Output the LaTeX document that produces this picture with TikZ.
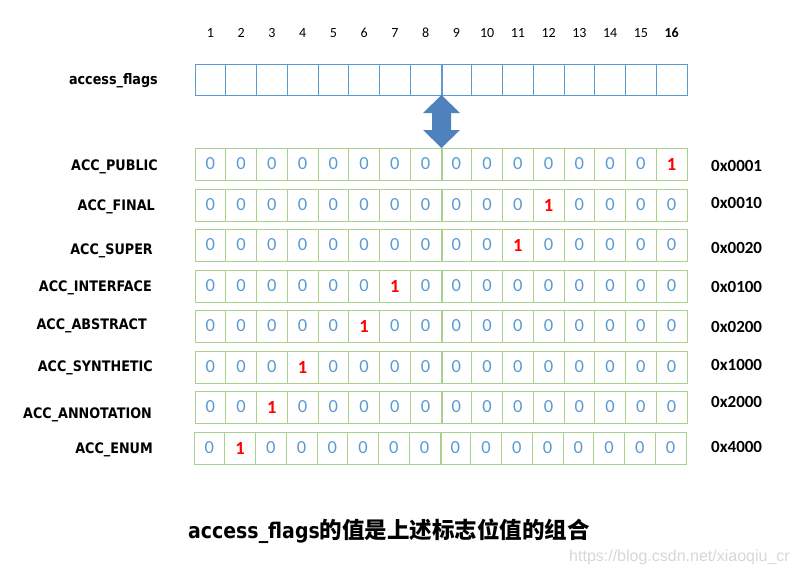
\documentclass[tikz,border=0pt]{standalone}
\usepackage{fontspec}
\setmainfont{Carlito}
\newfontfamily\lab{DejaVu Sans}[FakeStretch=0.88]
\newfontfamily\cjk{Noto Sans CJK SC}
\newfontfamily\wmfont{Liberation Sans}
\definecolor{hblue}{RGB}{91,155,213}
\definecolor{ggreen}{RGB}{169,209,142}
\definecolor{dblue}{RGB}{91,155,213}
\definecolor{abl}{RGB}{79,129,189}
\definecolor{wmgray}{RGB}{215,215,215}
\tikzset{
  hcell/.style={draw=hblue,line width=1pt,minimum width=30.75pt,minimum height=31pt,inner sep=0pt},
  gcell/.style={draw=ggreen,line width=1pt,minimum width=30.75pt,minimum height=32pt,inner sep=0pt},
  zerobit/.style={text=dblue,font=\fontsize{18.5}{20}\selectfont},
  onebit/.style={text=red,font=\fontsize{18.5}{20}\selectfont\bfseries},
  num/.style={font=\fontsize{14}{16}\selectfont,inner sep=0pt},
  lbl/.style={font=\lab\bfseries\fontsize{14.5}{16}\selectfont,inner sep=0pt},
  hexlbl/.style={font=\bfseries\fontsize{17}{19}\selectfont,inner sep=0pt},
  divider/.style={draw=ggreen,line width=2pt},
}
\begin{document}
\begin{tikzpicture}[x=1pt,y=-1pt]
\useasboundingbox (0,0) rectangle (794,576);
\def\cw{30.75}
% header numbers and access_flags row
\foreach \c in {1,...,16}{
  \ifnum\c=16
    \node[num,font=\fontsize{14}{16}\selectfont\bfseries] (n\c) at ({195+(\c-0.5)*\cw},33) {16};
  \else
    \node[num] (n\c) at ({195+(\c-0.5)*\cw},33) {\c};
  \fi
  \node[hcell] (h\c) at ({195+(\c-0.5)*\cw},79.5) {};
}
\draw[draw=hblue,line width=2pt] (h8.north east) -- (h8.south east);
\draw[draw=hblue,line width=1.5pt] (h12.north east) -- (h12.south east);
\node[lbl,anchor=east] (af) at (158,81) {access\_flags};
% rows
\foreach \r/\t/\name/\lx/\ly/\hx/\hy/\one/\dx in {
  1/148/ACC\_PUBLIC/158/164/0x0001/166/16/0,
  2/189/ACC\_FINAL/155/204/0x0010/203/12/0,
  3/229/ACC\_SUPER/153/248/0x0020/248/11/0,
  4/270/ACC\_INTERFACE/152/285/0x0100/287/7/0,
  5/310/ACC\_ABSTRACT/147/323/0x0200/327/6/0,
  6/351/ACC\_SYNTHETIC/153/365/0x1000/365/4/0,
  7/391/ACC\_ANNOTATION/152/412/0x2000/402/3/0,
  8/432/ACC\_ENUM/153/447/0x4000/447/2/-1}{
  \node[lbl,anchor=east] (l\r) at (\lx,{\ly+3}) {\name};
  \node[hexlbl,anchor=west] (x\r) at (711,\hy) {\hx};
  \foreach \c in {1,...,16}{
    \ifnum\c=\one
      \node[gcell,onebit] (r\r-\c) at ({195+\dx+(\c-0.5)*\cw},{\t+16}) {1};
    \else
      \node[gcell,zerobit] (r\r-\c) at ({195+\dx+(\c-0.5)*\cw},{\t+16}) {0};
    \fi
  }
  \draw[divider] (r\r-8.north east) -- (r\r-8.south east);
  \draw[divider,line width=1.5pt] (r\r-12.north east) -- (r\r-12.south east);
}
% double arrow between access_flags row and first row
\coordinate (atop) at (441.5,95);
\coordinate (abot) at (441.5,148);
\fill[abl] (atop) -- ++(18.5,18) -- ++(-9,0) -- ++(0,17) -- ++(9,0) -- (abot)
  -- ++(-18.5,-18) -- ++(9,0) -- ++(0,-17) -- ++(-9,0) -- cycle;
% caption
\node[anchor=west,inner sep=0pt] (cap) at (188,531)
  {{\lab\bfseries\fontsize{21.5}{24}\selectfont access\_flags}{\cjk\bfseries\fontsize{22.5}{26}\selectfont 的值是上述标志位值的组合}};
\node[anchor=west,inner sep=0pt,text=wmgray,font=\wmfont\fontsize{16}{18}\selectfont] (wm) at (569,557) {https://blog.csdn.net/xiaoqiu\_cr};
\end{tikzpicture}
\end{document}
